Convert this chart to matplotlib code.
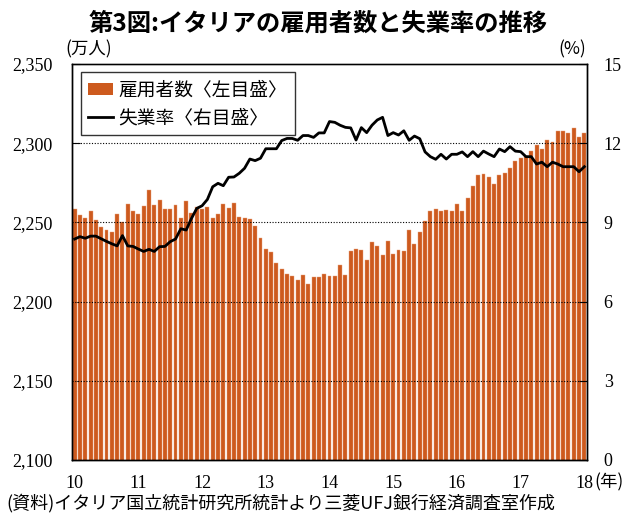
import numpy as np
import matplotlib.pyplot as plt
from matplotlib.patches import Patch
from matplotlib.lines import Line2D

# monthly data, 2010-01 .. 2018-01
employed = [
    2258.6, 2254.7, 2253.0, 2257.2, 2251.5, 2246.9, 2245.2, 2243.7, 2255.3, 2250.0, 2261.4, 2257.4,
    2255.5, 2260.3, 2270.2, 2261.0, 2264.1, 2258.4, 2258.4, 2261.0, 2252.6, 2263.7, 2255.7, 2259.5,
    2258.6, 2259.9, 2252.6, 2255.5, 2261.4, 2258.9, 2262.0, 2253.2, 2252.6, 2252.0, 2247.7, 2240.0,
    2233.4, 2231.3, 2224.2, 2220.6, 2217.2, 2216.4, 2213.6, 2216.8, 2211.3, 2215.3, 2215.3, 2217.2,
    2216.4, 2216.4, 2223.1, 2216.8, 2232.1, 2233.4, 2232.4, 2226.0, 2237.6, 2235.1, 2229.4, 2238.4,
    2230.0, 2232.8, 2231.7, 2245.2, 2236.2, 2244.1, 2250.6, 2257.4, 2258.3, 2257.0, 2258.0, 2257.0,
    2261.4, 2257.4, 2265.4, 2272.7, 2279.9, 2280.6, 2278.5, 2274.2, 2279.9, 2281.2, 2284.1, 2288.6,
    2290.9, 2292.1, 2295.3, 2298.7, 2296.2, 2302.0, 2300.8, 2307.7, 2307.7, 2306.2, 2309.4, 2303.7,
    2306.2,
]
unemp = [
    8.37, 8.46, 8.40, 8.48, 8.48, 8.38, 8.28, 8.19, 8.11, 8.50, 8.11, 8.09,
    7.99, 7.90, 7.98, 7.90, 8.08, 8.09, 8.27, 8.37, 8.76, 8.71, 9.15, 9.53,
    9.63, 9.87, 10.35, 10.48, 10.39, 10.71, 10.72, 10.86, 11.05, 11.40, 11.34, 11.43,
    11.79, 11.79, 11.79, 12.10, 12.18, 12.18, 12.11, 12.29, 12.29, 12.22, 12.39, 12.39,
    12.82, 12.79, 12.68, 12.60, 12.58, 12.12, 12.59, 12.40, 12.68, 12.88, 12.98, 12.29,
    12.40, 12.31, 12.47, 12.11, 12.27, 12.17, 11.67, 11.49, 11.39, 11.58, 11.40, 11.58,
    11.58, 11.67, 11.49, 11.68, 11.49, 11.70, 11.59, 11.49, 11.78, 11.68, 11.87, 11.70,
    11.68, 11.49, 11.49, 11.21, 11.28, 11.11, 11.28, 11.21, 11.11, 11.11, 11.11, 10.92,
    11.11,
]
year_labels = ["10", "11", "12", "13", "14", "15", "16", "17", "18"]
left_ticks = [2100, 2150, 2200, 2250, 2300, 2350]
right_ticks = [0, 3, 6, 9, 12, 15]

jp = ["Noto Sans CJK JP", "DejaVu Sans"]
serif = "Liberation Serif"
bar_color = "#CD5A1E"

fig = plt.figure(figsize=(6.36, 5.15), dpi=100)
ax = fig.add_axes([72 / 636, 1 - 460 / 515, 515 / 636, 396 / 515])
x = np.arange(len(employed))
ax.bar(x, employed, width=0.74, color=bar_color, edgecolor="#E9A27A", linewidth=0.3, zorder=2)
ax.set_ylim(2100, 2350)
ax.set_xlim(-0.5, len(employed) - 0.5)
ax.set_yticks(left_ticks)
ax.set_yticklabels([f"{v:,}" for v in left_ticks], fontfamily=serif, fontsize=13)
ax.set_xticks(np.arange(0, len(employed), 12))
ax.set_xticklabels(year_labels, fontfamily=serif, fontsize=13)
ax.tick_params(axis="y", direction="in", length=6, pad=14)
ax.tick_params(axis="x", direction="in", length=4, pad=11, color="#888888")
for v in left_ticks[1:-1]:
    ax.axhline(v, color="black", linestyle=(0, (1, 1.5)), linewidth=0.8, zorder=3)

ax2 = ax.twinx()
ax2.plot(x, unemp, color="black", linewidth=2, zorder=4)
ax2.set_ylim(0, 15)
ax2.set_yticks(right_ticks)
ax2.set_yticklabels([str(v) for v in right_ticks], fontfamily=serif, fontsize=13)
ax2.tick_params(axis="y", direction="in", length=6, pad=12)

for a in (ax, ax2):
    for s in a.spines.values():
        s.set_linewidth(1.0)
ax.spines["top"].set_color("#555555")

handles = [Patch(facecolor=bar_color, edgecolor="none"),
           Line2D([0], [0], color="black", linewidth=2)]
leg = ax2.legend(handles, ["雇用者数〈左目盛〉", "失業率〈右目盛〉"],
                 loc="upper left", bbox_to_anchor=(0.017, 0.98), borderaxespad=0,
                 prop={"family": jp, "size": 13.5}, frameon=True, fancybox=False,
                 handlelength=1.3, handleheight=0.6, handletextpad=0.3,
                 labelspacing=0.35, borderpad=0.4)
leg.get_frame().set_edgecolor("black")
leg.get_frame().set_linewidth(1.0)

fig.text(0.5, 1 - 24 / 515, "第3図:イタリアの雇用者数と失業率の推移",
         ha="center", va="center", fontfamily=jp, fontsize=17.5, fontweight="bold")
fig.text(65 / 636, 1 - 49 / 515, "(万人)", ha="left", va="center", fontfamily=jp, fontsize=12.5)
fig.text(586 / 636, 1 - 49 / 515, "(%)", ha="right", va="center", fontfamily=jp, fontsize=12.5)
fig.text(594 / 636, 1 - 482 / 515, "(年)", ha="left", va="center", fontfamily=jp, fontsize=12.5)
fig.text(6 / 636, 1 - 503 / 515, "(資料)イタリア国立統計研究所統計より三菱UFJ銀行経済調査室作成",
         ha="left", va="center", fontfamily=jp, fontsize=13)

plt.savefig("out.png", dpi=100)
